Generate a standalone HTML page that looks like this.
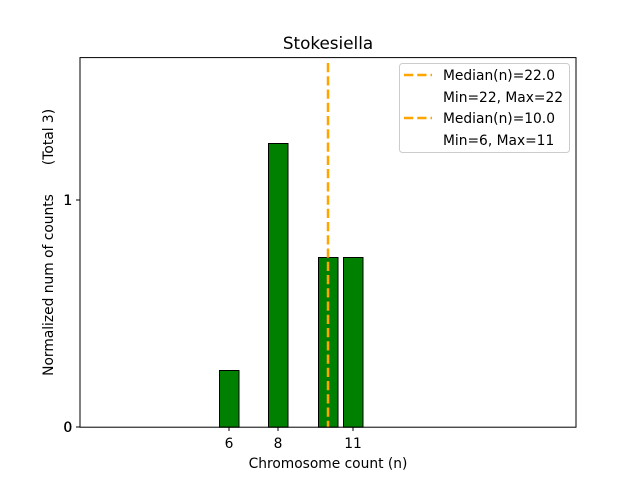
<!DOCTYPE html>
<html><head><meta charset="utf-8"><style>body{margin:0;background:#fff}svg{display:block}</style></head><body>
<svg width="640" height="480" xmlns="http://www.w3.org/2000/svg" font-family="DejaVu Sans, Liberation Sans, sans-serif" font-size="13.8">
<rect width="640" height="480" fill="#fff"/>
<text x="328" y="49" text-anchor="middle" font-size="16.8">Stokesiella</text>
<g fill="#008000" stroke="#000" stroke-width="1">
<rect x="219.5" y="370.5" width="19.5" height="56.7"/>
<rect x="268.5" y="143.5" width="19.5" height="283.7"/>
<rect x="318.5" y="257.5" width="19.5" height="169.7"/>
<rect x="343.5" y="257.5" width="19.5" height="169.7"/>
</g>
<line x1="328" y1="63" x2="328" y2="427" stroke="#FFA500" stroke-width="2.5" stroke-dasharray="9.25,4"/>
<rect x="80" y="57.6" width="496" height="369.6" fill="none" stroke="#000" stroke-width="1"/>
<g stroke="#000">
<line x1="229" y1="427" x2="229" y2="431"/><line x1="278" y1="427" x2="278" y2="431"/><line x1="353" y1="427" x2="353" y2="431"/>
<line x1="80" y1="427" x2="76" y2="427"/><line x1="80" y1="200" x2="76" y2="200"/>
</g>
<text x="229" y="448" text-anchor="middle">6</text>
<text x="278" y="448" text-anchor="middle">8</text>
<text x="353" y="448" text-anchor="middle">11</text>
<text x="72" y="432" text-anchor="end">0</text>
<text x="72.4" y="432" text-anchor="end">0</text>
<text x="72" y="205" text-anchor="end">1</text>
<text x="72.4" y="205" text-anchor="end">1</text>
<text x="328" y="468" text-anchor="middle">Chromosome count (n)</text>
<text transform="translate(53,285) rotate(-90)" text-anchor="middle">Normalized num of counts</text>
<text transform="translate(53,137) rotate(-90)" text-anchor="middle">(Total 3)</text>
<rect x="399.5" y="63.5" width="170" height="89" fill="#fff" stroke="#ccc" rx="3"/>
<line x1="404" y1="75" x2="432" y2="75" stroke="#FFA500" stroke-width="2.5" stroke-dasharray="9.25,4"/>
<line x1="404" y1="118" x2="432" y2="118" stroke="#FFA500" stroke-width="2.5" stroke-dasharray="9.25,4"/>
<text x="443" y="80">Median(n)=22.0</text>
<text x="443" y="102">Min=22, Max=22</text>
<text x="443" y="123">Median(n)=10.0</text>
<text x="443" y="145">Min=6, Max=11</text>
</svg>
</body></html>
